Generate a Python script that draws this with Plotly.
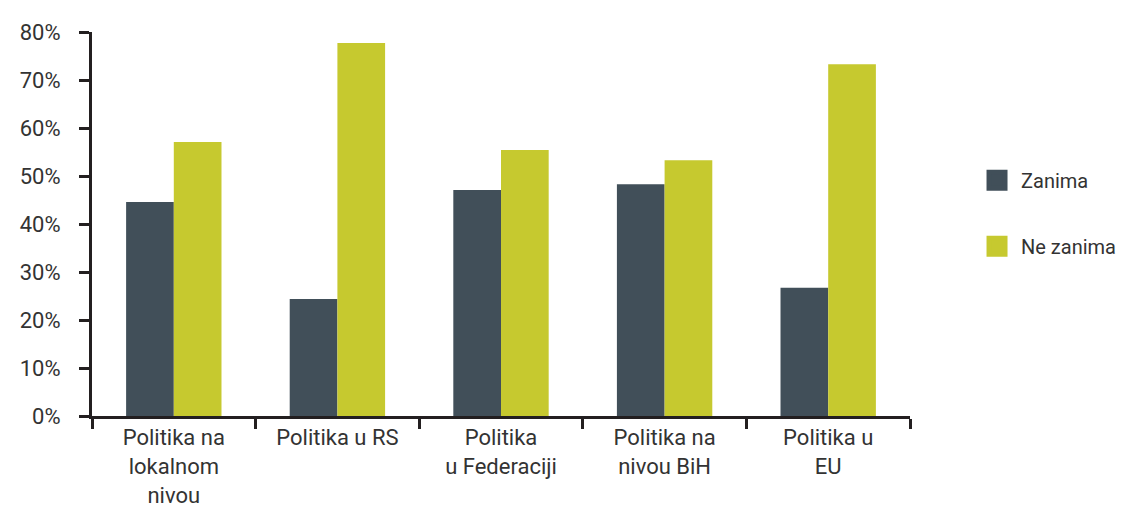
import plotly.graph_objects as go

categories = ["Politika na<br>lokalnom<br>nivou", "Politika u RS", "Politika<br>u Federaciji",
              "Politika na<br>nivou BiH", "Politika u<br>EU"]
zanima = [44.6, 24.4, 47.1, 48.3, 26.7]
ne_zanima = [57.1, 77.7, 55.4, 53.3, 73.3]
series_names = ["Zanima", "Ne zanima"]
y_ticks = [0, 10, 20, 30, 40, 50, 60, 70, 80]
y_labels = [f"{v}%" for v in y_ticks]

c_dark = "#414F59"
c_green = "#C6C92F"
axis_col = "#231F20"
font_family = "Roboto, sans-serif"

fig = go.Figure()
fig.add_trace(go.Bar(x=categories, y=zanima, name=series_names[0], marker_color=c_dark,
                     marker_line_width=0, showlegend=False))
fig.add_trace(go.Bar(x=categories, y=ne_zanima, name=series_names[1], marker_color=c_green,
                     marker_line_width=0, showlegend=False))
for i, (n, c) in enumerate(zip(series_names, [c_dark, c_green])):
    fig.add_trace(go.Scatter(x=[None], y=[None], mode="markers", name=n, legendgroup=n,
                             marker=dict(symbol="square", size=16, color=c,
                                         line=dict(color=c, width=5))))

fig.update_layout(
    width=1130, height=516,
    margin=dict(l=84, r=228, t=24, b=108, autoexpand=False),
    paper_bgcolor="white", plot_bgcolor="white",
    barmode="group", bargap=0.417, bargroupgap=0,
    font=dict(family=font_family, size=22, color="#333333"),
    legend=dict(xref="container", yref="container", x=0.854, y=0.704,
                xanchor="left", yanchor="top", itemsizing="trace",
                itemwidth=38, tracegroupgap=37, font=dict(size=20, color="#333333")),
    xaxis=dict(showline=True, linecolor=axis_col, linewidth=3, ticks="outside",
               tickson="boundaries", ticklen=10, tickwidth=3, tickcolor=axis_col,
               showgrid=False, zeroline=False, automargin=False),
    yaxis=dict(range=[0, 80], tickvals=y_ticks, ticktext=y_labels, showline=True,
               linecolor=axis_col, linewidth=3, ticks="outside", ticklen=10, tickwidth=3,
               tickcolor=axis_col, showgrid=False, zeroline=False, ticklabelstandoff=14,
               automargin=False),
)
fig.write_html("out.html")
